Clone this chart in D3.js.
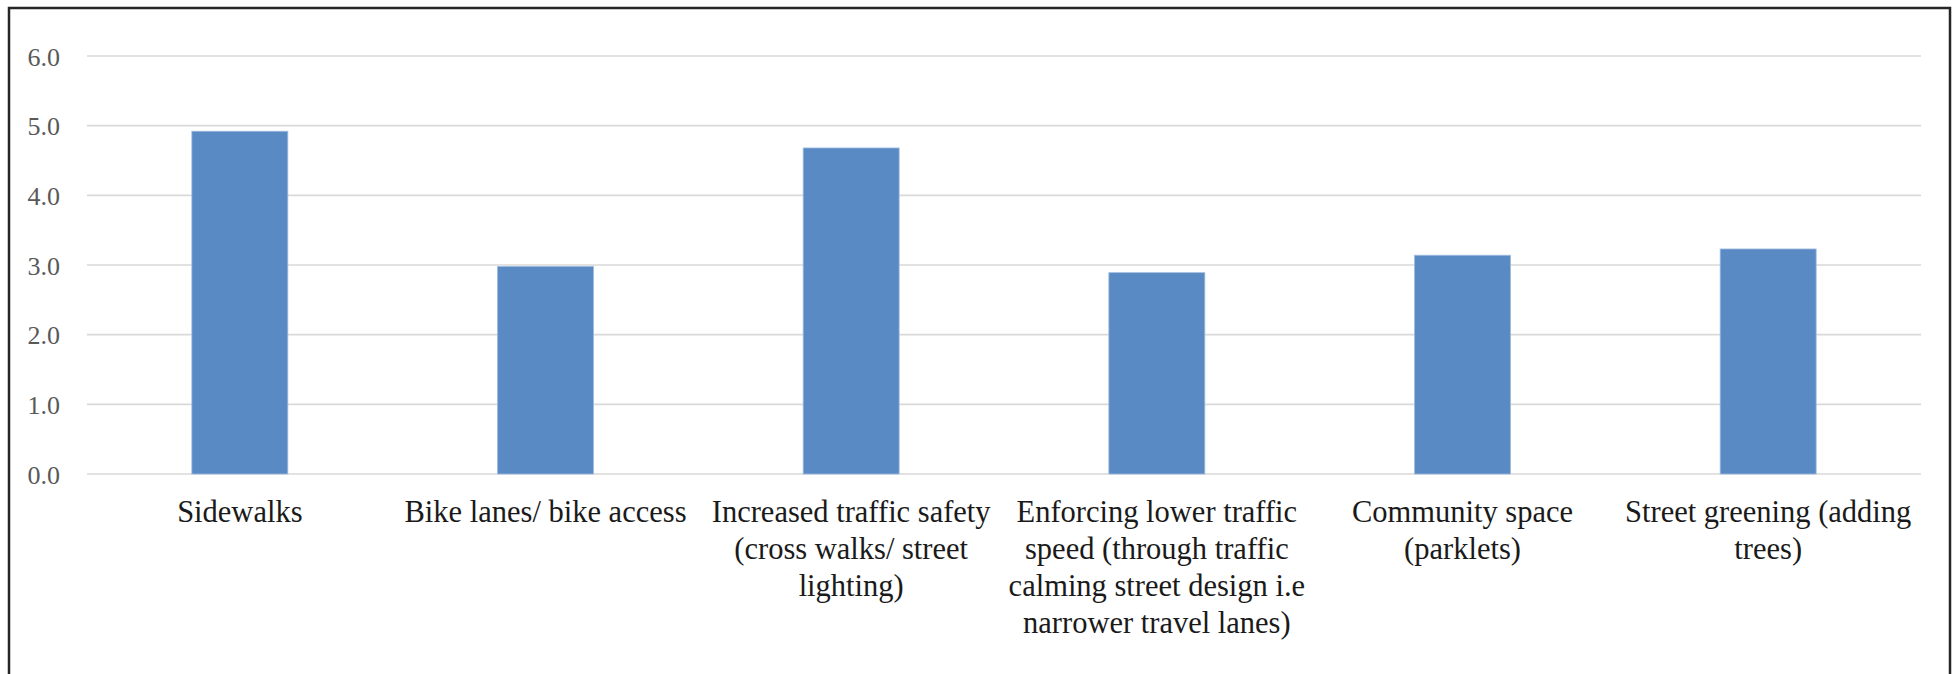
<!DOCTYPE html>
<html>
<head>
<meta charset="utf-8">
<script src="https://cdn.jsdelivr.net/npm/d3@7"></script>
<style>
  html, body { margin: 0; padding: 0; background: #ffffff; }
  svg { display: block; }
</style>
</head>
<body>
<script>
// Category labels ("\n" marks a line break in the axis label)
const categories = [
  "Sidewalks",
  "Bike lanes/ bike access",
  "Increased traffic safety\n(cross walks/ street\nlighting)",
  "Enforcing lower traffic\nspeed (through traffic\ncalming street design i.e\nnarrower travel lanes)",
  "Community space\n(parklets)",
  "Street greening (adding\ntrees)"
];
// Average rating per improvement
const values = [4.92, 2.98, 4.68, 2.89, 3.14, 3.23];
// Y axis ticks
const yTicks = [0, 1, 2, 3, 4, 5, 6];

const W = 1958, H = 674;
const margin = { left: 87, right: 37, top: 56, bottom: 200 };

const svg = d3.select("body").append("svg")
  .attr("width", W).attr("height", H);

// Chart frame
svg.append("rect")
  .attr("x", 9).attr("y", 8)
  .attr("width", 1941).attr("height", 700)
  .attr("fill", "none")
  .attr("stroke", "#262626")
  .attr("stroke-width", 2.5);

const x = d3.scaleBand()
  .domain(categories)
  .range([margin.left, W - margin.right])
  .paddingInner(0.686)
  .paddingOuter(0.343);

const y = d3.scaleLinear()
  .domain([0, 6])
  .range([474, 56]);

// Horizontal gridlines
svg.append("g")
  .selectAll("line")
  .data(yTicks)
  .join("line")
  .attr("x1", margin.left)
  .attr("x2", W - margin.right)
  .attr("y1", d => y(d))
  .attr("y2", d => y(d))
  .attr("stroke", "#d9d9d9")
  .attr("stroke-width", 1.6);

// Y axis labels
const yAxis = d3.axisLeft(y)
  .tickValues(yTicks)
  .tickFormat(d3.format(".1f"))
  .tickSize(0)
  .tickPadding(0);

const yg = svg.append("g")
  .attr("transform", "translate(60,0)")
  .call(yAxis);
yg.select(".domain").remove();
yg.selectAll("text")
  .attr("fill", "#595959")
  .attr("font-family", "'Liberation Serif', 'DejaVu Serif', serif")
  .attr("font-size", 26)
  .attr("dy", "0.35em");

// Bars
svg.append("g")
  .selectAll("rect")
  .data(values)
  .join("rect")
  .attr("x", (d, i) => x(categories[i]))
  .attr("y", d => y(d))
  .attr("width", x.bandwidth())
  .attr("height", d => y(0) - y(d))
  .attr("fill", "#5a8ac3")
  .attr("stroke", "#9dbbe0")
  .attr("stroke-width", 0.8);

// X axis category labels
const xAxis = d3.axisBottom(x).tickSize(0).tickFormat("");
const xg = svg.append("g")
  .attr("transform", `translate(0,${y(0)})`)
  .call(xAxis);
xg.select(".domain").remove();

xg.selectAll(".tick")
  .append("text")
  .attr("text-anchor", "middle")
  .attr("fill", "#1a1a1a")
  .attr("font-family", "'Liberation Serif', 'DejaVu Serif', serif")
  .attr("font-size", 30.5)
  .each(function(d) {
    const lines = d.split("\n");
    const t = d3.select(this);
    lines.forEach((ln, k) => {
      t.append("tspan")
        .attr("x", 0)
        .attr("y", 48 + k * 37)
        .text(ln);
    });
  });
</script>
</body>
</html>
